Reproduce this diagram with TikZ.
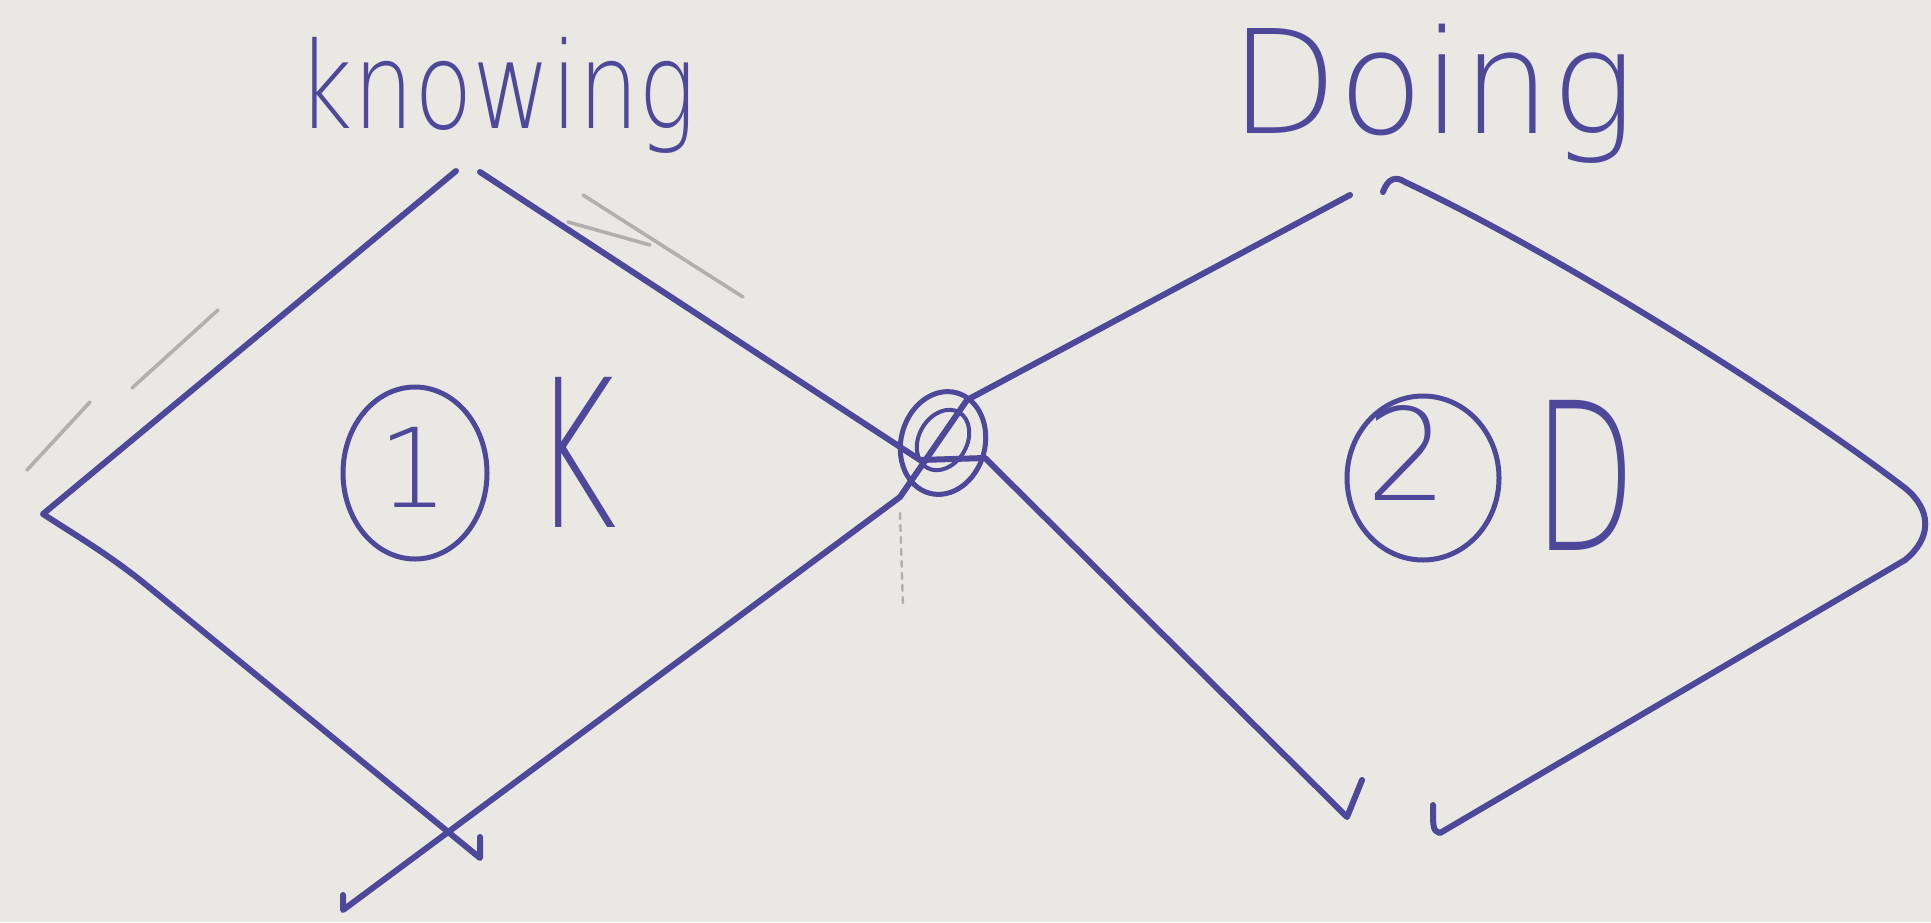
\documentclass[tikz,border=0pt]{standalone}
\usepackage{fontspec}
\usetikzlibrary{shapes.geometric}
\newfontfamily\hand{DejaVu Sans ExtraLight}
\definecolor{paper}{RGB}{234,232,226}
\definecolor{ink}{RGB}{78,72,155}
\definecolor{pencil}{RGB}{178,176,172}
\tikzset{
  pen/.style={draw=ink, line width=3pt, line cap=round, line join=round},
  faint/.style={draw=pencil, line width=1.8pt, line cap=round},
  word/.style={text=ink, inner sep=0pt, anchor=base, font=\hand},
  ring/.style={draw=ink, line width=2.5pt, ellipse, inner sep=0pt}
}
\begin{document}
\begin{tikzpicture}[x=0.5pt, y=-0.5pt]
\fill[paper] (0,0) rectangle (1931,922);
\useasboundingbox (0,0) rectangle (1931,922);

% faint pencil marks
\draw[faint] (27,470) -- (90,402);
\draw[faint] (132,388) -- (218,310);
\draw[faint] (583,195) -- (743,297);
\draw[faint] (568,222) -- (650,245);
\draw[faint, dashed, line width=1.2pt] (900,513) -- (903,607);

% titles
\node[word, font=\hand\fontsize{60}{70}\selectfont, xscale=0.8] (knowing) at (497,128) {knowing};
\node[word, font=\hand\fontsize{72}{85}\selectfont, xscale=0.97] (doing) at (1433,133) {Doing};

% left diamond
\coordinate (Ltop) at (456,171);
\coordinate (Lleft) at (43,514);
\coordinate (Lbot) at (480,858);
\coordinate (Ltick) at (480,837);
\draw[pen] (Ltop) -- (Lleft) .. controls (75,535) and (110,555) .. (150,588) -- (Lbot) -- (Ltick);

% crossing strokes through the junction
\coordinate (A1) at (480,172);
\coordinate (A2) at (920,460);
\coordinate (A3) at (985,458);
\coordinate (A4) at (1347,817);
\coordinate (A5) at (1362,780);
\draw[pen] (A1) -- (A2) -- (A3) -- (A4) -- (A5);

\coordinate (B0) at (343,895);
\coordinate (B1) at (343,910);
\coordinate (B2) at (900,497);
\coordinate (B3) at (967,400);
\coordinate (B4) at (1350,195);
\draw[pen] (B0) -- (B1) -- (B2) -- (B3) -- (B4);

% right diamond outer edge
\coordinate (R0) at (1383,192);
\coordinate (R1) at (1405,182);
\coordinate (R2) at (1905,488);
\coordinate (R3) at (1905,560);
\coordinate (R4) at (1440,833);
\coordinate (R5) at (1433,805);
\draw[pen] (R0) .. controls (1388,178) and (1396,176) .. (R1)
  .. controls (1560,255) and (1790,400) .. (R2)
  .. controls (1932,510) and (1932,538) .. (R3)
  -- (R4) .. controls (1433,830) .. (R5);

% junction ring
\node[ring, minimum width=42pt, minimum height=52pt, rotate=-15] (join) at (943,443) {};
\node[ring, line width=2pt, minimum width=24pt, minimum height=32pt, rotate=-30] (joinin) at (943,440) {};

% numbered labels
\node[ring, minimum width=72pt, minimum height=86pt] (c1) at (415,473) {};
\node[word, font=\hand\fontsize{55}{65}\selectfont] (n1) at (413,507) {1};
\node[word, font=\hand\fontsize{103}{120}\selectfont, xscale=0.62] (K) at (575,527) {K};

\node[ring, minimum width=76pt, minimum height=82pt] (c2) at (1423,478) {};
\node[word, font=\hand\fontsize{64}{75}\selectfont] (n2) at (1407,500) {2};
\node[word, font=\hand\fontsize{103}{120}\selectfont, xscale=0.65] (D) at (1585,550) {D};
\end{tikzpicture}
\end{document}
